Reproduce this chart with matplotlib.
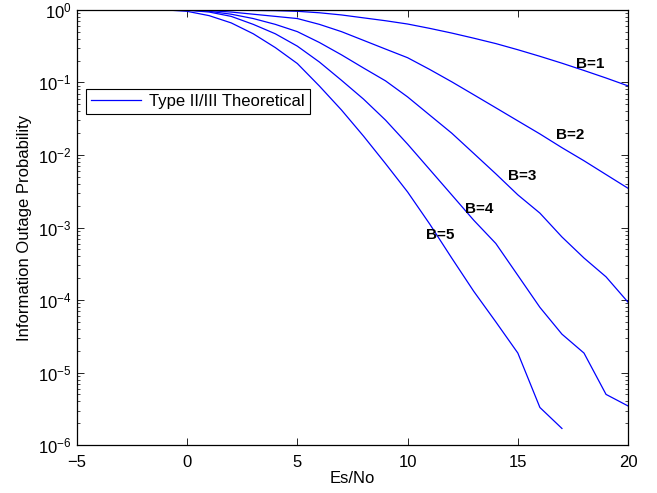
import numpy as np
import matplotlib
matplotlib.use("Agg")
import matplotlib.pyplot as plt
from matplotlib.ticker import LogLocator, NullFormatter

plt.rcParams['font.family'] = ['Liberation Sans', 'DejaVu Sans']
plt.rcParams['mathtext.fontset'] = 'custom'
plt.rcParams['mathtext.rm'] = 'Liberation Sans'
plt.rcParams['mathtext.it'] = 'Liberation Sans:italic'
plt.rcParams['mathtext.bf'] = 'Liberation Sans:bold'

# datos
esno = list(range(-5, 21))
esno_b5 = list(range(-5, 18))

p_b1 = [1, 1, 1, 1, 1, 1, 0.995, 0.989, 0.982, 0.975, 0.955, 0.912, 0.851,
        0.776, 0.708, 0.638, 0.556, 0.479, 0.407, 0.343, 0.282, 0.229, 0.184,
        0.146, 0.115, 0.0895]
p_b2 = [1, 1, 1, 1, 1, 0.995, 0.977, 0.933, 0.871, 0.813, 0.759, 0.631, 0.501,
        0.380, 0.288, 0.219, 0.151, 0.102, 0.0676, 0.0447, 0.0295, 0.0195,
        0.0126, 0.00832, 0.00537, 0.00347]
p_b3 = [1, 1, 1, 1, 1, 0.993, 0.955, 0.871, 0.759, 0.631, 0.501, 0.355, 0.240,
        0.158, 0.105, 0.0631, 0.0355, 0.0200, 0.0105, 0.00550, 0.00282,
        0.00158, 0.000741, 0.000380, 0.000209, 0.0000933]
p_b4 = [1, 1, 1, 1, 1, 0.989, 0.933, 0.813, 0.631, 0.468, 0.316, 0.191, 0.107,
        0.0589, 0.0302, 0.0141, 0.00631, 0.00282, 0.00126, 0.000603, 0.000219,
        0.0000794, 0.0000339, 0.0000186, 0.00000501, 0.00000347]
p_b5 = [1, 1, 1, 1, 1, 0.955, 0.832, 0.661, 0.468, 0.302, 0.182, 0.0891,
        0.0417, 0.0182, 0.00759, 0.00309, 0.00112, 0.000380, 0.000132,
        0.0000501, 0.0000186, 0.00000331, 0.0000017]

etiquetas = ['B=1', 'B=2', 'B=3', 'B=4', 'B=5']
pos_x = [18.28, 17.37, 15.19, 13.24, 11.47]
pos_y = [0.18, 0.019, 0.0052, 0.0018, 0.00079]

fig = plt.figure(figsize=(6.57, 4.93), dpi=100)
ax = fig.add_axes([0.117, 0.097, 0.839, 0.883])

ax.semilogy(esno, p_b1, color='b', lw=0.9, label='Type II/III Theoretical')
ax.semilogy(esno, p_b2, color='b', lw=0.9)
ax.semilogy(esno, p_b3, color='b', lw=0.9)
ax.semilogy(esno, p_b4, color='b', lw=0.9)
ax.semilogy(esno_b5, p_b5, color='b', lw=0.9)

for txt, xx, yy in zip(etiquetas, pos_x, pos_y):
    ax.text(xx, yy, txt, fontsize=11, fontweight='bold', ha='center', va='center')

ax.set_xlim(-5, 20)
ax.set_ylim(1e-6, 1)
ax.set_xticks([-5, 0, 5, 10, 15, 20])
ax.set_xticklabels(['\u22125', '0', '5', '10', '15', '20'])
ax.yaxis.set_major_locator(LogLocator(base=10, numticks=10))
ax.yaxis.set_minor_locator(LogLocator(base=10, subs=np.arange(2, 10), numticks=20))
ax.yaxis.set_minor_formatter(NullFormatter())
ax.tick_params(which='both', direction='in', top=True, right=True, labelsize=12)
ax.tick_params(which='major', length=5, width=0.6)
ax.tick_params(which='minor', length=2.5, width=0.5)
ax.tick_params(axis='x', pad=7)
ax.tick_params(axis='y', pad=4)
for s in ax.spines.values():
    s.set_linewidth(0.9)

ax.set_xlabel('Es/No', fontsize=12, labelpad=1)
ax.set_ylabel('Information Outage Probability', fontsize=12, labelpad=4)

leg = ax.legend(loc='upper left', bbox_to_anchor=(0.016, 0.818), borderaxespad=0,
                fontsize=12, fancybox=False, edgecolor='k', framealpha=1,
                handlelength=3.0, handletextpad=0.5, borderpad=0.3)
leg.get_frame().set_linewidth(0.8)

plt.savefig('out.png', dpi=100)
